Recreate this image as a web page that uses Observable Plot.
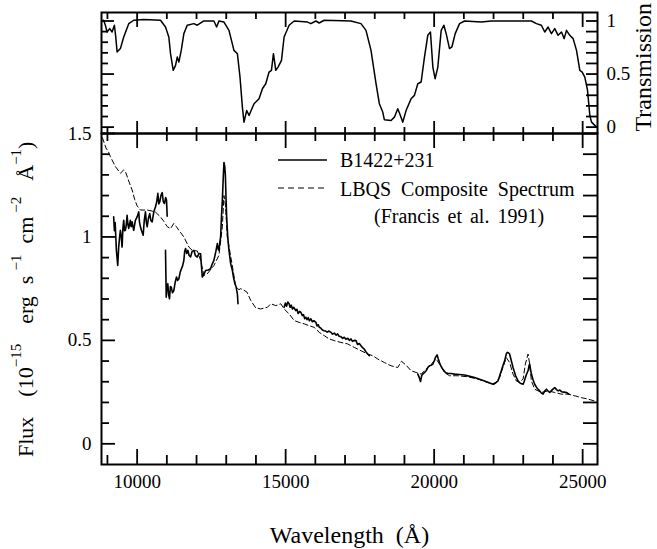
<!DOCTYPE html>
<html><head><meta charset="utf-8">
<script src="https://cdn.jsdelivr.net/npm/d3@7"></script>
<script src="https://cdn.jsdelivr.net/npm/@observablehq/plot@0.6"></script>
<style>
html,body{margin:0;padding:0;background:#fff;}
#chart{position:relative;width:657px;height:549px;overflow:hidden;background:#fff;font-family:'Liberation Serif',serif;}
#chart svg{position:absolute;left:0;top:0;font-family:'Liberation Serif',serif;}
#chart svg text{font-family:'Liberation Serif',serif !important;}
</style></head><body><div id="chart"></div>
<script>
// ---------- DATA (wavelength in Å, value) ----------
const transmission = [[8800,1.0],[8873,1.007],[8930,0.96],[8988,0.896],[9075,0.928],[9156,0.896],[9234,0.96],[9280,0.85],[9325,0.708],[9436,0.74],[9548,0.849],[9717,0.975],[9885,1.007],[10223,1.013],[10786,1.007],[10955,0.943],[11067,0.849],[11124,0.692],[11215,0.535],[11293,0.582],[11350,0.66],[11405,0.613],[11485,0.723],[11573,0.881],[11687,0.96],[11910,0.975],[12025,0.96],[12248,1.0],[12585,1.0],[12676,0.943],[12754,1.0],[12923,0.99],[13092,0.912],[13260,0.723],[13375,0.692],[13463,0.472],[13543,0.189],[13598,0.047],[13689,0.157],[13768,0.11],[13936,0.221],[14104,0.268],[14218,0.362],[14330,0.409],[14441,0.519],[14522,0.535],[14589,0.692],[14668,0.535],[14745,0.566],[14860,0.629],[14948,0.849],[15117,0.96],[15286,1.0],[15738,0.99],[15849,0.975],[16018,1.0],[16130,0.981],[16298,1.007],[17199,1.0],[17537,0.975],[17705,0.912],[17874,0.723],[18043,0.409],[18155,0.221],[18269,0.142],[18323,0.07],[18549,0.063],[18661,0.094],[18775,0.174],[18863,0.11],[18944,0.047],[19055,0.157],[19224,0.268],[19336,0.299],[19450,0.409],[19562,0.425],[19674,0.66],[19786,0.865],[19876,0.896],[19956,0.566],[20032,0.456],[20124,0.566],[20237,0.912],[20327,0.96],[20405,0.881],[20517,0.74],[20597,0.755],[20709,0.881],[20855,0.975],[21023,1.0],[21587,0.99],[21924,1.0],[23274,1.0],[23443,0.975],[23611,0.96],[23724,0.896],[23837,0.943],[23949,0.881],[24061,0.928],[24174,0.865],[24287,0.896],[24378,0.834],[24455,0.912],[24567,0.865],[24680,0.834],[24793,0.723],[24905,0.535],[24984,0.519],[25073,0.472],[25164,0.346],[25242,0.11],[25299,0.047],[25468,0.0]];

const lbqsComposite = [[8830,1.48],[8950,1.43],[9041,1.41],[9099,1.388],[9268,1.34],[9436,1.308],[9548,1.324],[9620,1.31],[9717,1.27],[9831,1.227],[9920,1.18],[10000,1.15],[10111,1.13],[10338,1.13],[10500,1.125],[10618,1.12],[10786,1.097],[10900,1.075],[11012,1.05],[11124,1.04],[11235,1.065],[11320,1.05],[11405,1.032],[11573,1.0],[11742,0.951],[11856,0.935],[12025,0.932],[12136,0.887],[12248,0.814],[12362,0.822],[12585,0.862],[12754,0.911],[12869,1.05],[12923,1.2],[12975,1.15],[13036,1.0],[13206,0.86],[13318,0.76],[13430,0.745],[13487,0.75],[13600,0.742],[13700,0.733],[13824,0.693],[13993,0.657],[14161,0.652],[14388,0.66],[14499,0.677],[14668,0.668],[14836,0.677],[14948,0.652],[15117,0.628],[15286,0.596],[15454,0.587],[15623,0.58],[15792,0.571],[15961,0.563],[16130,0.539],[16298,0.523],[16467,0.507],[16636,0.499],[16861,0.49],[17087,0.483],[17311,0.466],[17537,0.45],[17762,0.434],[17931,0.426],[18100,0.41],[18323,0.393],[18549,0.377],[18775,0.369],[18900,0.399],[19055,0.38],[19224,0.353],[19393,0.345],[19562,0.337],[19731,0.361],[19899,0.385],[20068,0.41],[20180,0.385],[20348,0.345],[20517,0.329],[20800,0.329],[21137,0.324],[21474,0.313],[21812,0.296],[22035,0.288],[22204,0.32],[22316,0.369],[22430,0.417],[22541,0.393],[22656,0.337],[22768,0.304],[22879,0.296],[22994,0.313],[23071,0.385],[23162,0.434],[23217,0.385],[23274,0.304],[23385,0.264],[23611,0.248],[23837,0.256],[24061,0.248],[24287,0.24],[24512,0.24],[24736,0.232],[24962,0.223],[25188,0.216],[25450,0.205]];

const b1422_J = [[9210,1.097],[9234,1.03],[9260,1.07],[9302,0.934],[9346,0.862],[9379,0.951],[9410,1.0],[9436,1.032],[9465,1.0],[9494,0.951],[9520,1.04],[9548,1.081],[9575,1.03],[9605,1.032],[9635,1.06],[9662,1.105],[9690,1.06],[9717,1.041],[9770,1.08],[9800,1.05],[9831,1.073],[9860,1.05],[9885,1.032],[9940,1.08],[10000,1.097],[10054,1.121],[10080,1.07],[10111,1.049],[10150,1.03],[10203,1.008],[10240,1.08],[10280,1.121],[10310,1.07],[10338,1.049],[10380,1.09],[10425,1.113],[10460,1.08],[10506,1.073],[10560,1.12],[10618,1.146],[10660,1.17],[10697,1.211],[10730,1.16],[10763,1.17],[10800,1.2],[10844,1.214],[10880,1.17],[10921,1.162],[10960,1.19],[10989,1.178],[11012,1.1]];

const b1422_H = [[10955,0.935],[10979,0.709],[11005,0.76],[11033,0.774],[11060,0.72],[11090,0.701],[11120,0.76],[11148,0.757],[11190,0.73],[11235,0.741],[11280,0.78],[11326,0.806],[11365,0.79],[11405,0.798],[11450,0.83],[11495,0.847],[11530,0.86],[11573,0.887],[11600,0.93],[11630,0.944],[11670,0.92],[11709,0.935],[11750,0.91],[11799,0.903],[11850,0.93],[11910,0.935],[11960,0.91],[12025,0.903],[12080,0.92],[12136,0.919],[12165,0.86],[12194,0.806],[12250,0.82],[12305,0.838],[12400,0.84],[12474,0.847],[12530,0.87],[12585,0.887],[12650,0.93],[12700,0.968],[12730,0.94],[12754,0.935],[12790,0.98],[12811,1.0],[12840,1.1],[12869,1.178],[12900,1.29],[12923,1.36],[12950,1.34],[12970,1.3],[12990,1.2],[13014,1.097],[13050,1.0],[13092,0.935],[13150,0.87],[13206,0.838],[13250,0.8],[13294,0.774],[13330,0.76],[13375,0.725],[13396,0.677]];

const b1422_H2 = [[14948,0.66],[14990,0.68],[15030,0.665],[15070,0.685],[15117,0.677],[15150,0.66],[15190,0.67],[15230,0.652],[15270,0.66],[15342,0.644],[15380,0.65],[15420,0.63],[15470,0.64],[15511,0.636],[15560,0.62],[15600,0.625],[15640,0.605],[15680,0.612],[15720,0.6],[15760,0.61],[15800,0.595],[15849,0.604],[15900,0.59],[15950,0.595],[16018,0.587],[16060,0.57],[16100,0.575],[16130,0.563],[16180,0.56],[16240,0.55],[16298,0.547],[16350,0.545],[16400,0.54],[16460,0.545],[16524,0.539],[16580,0.53],[16640,0.535],[16700,0.525],[16750,0.531],[16800,0.52],[16860,0.518],[16920,0.51],[16973,0.515],[17030,0.505],[17090,0.51],[17150,0.5],[17199,0.507],[17250,0.495],[17310,0.5],[17368,0.499],[17420,0.48],[17480,0.485],[17537,0.474],[17590,0.465],[17648,0.458],[17700,0.445],[17762,0.434],[17817,0.426]];

const b1422_K = [[19450,0.337],[19500,0.32],[19540,0.301],[19580,0.33],[19619,0.337],[19680,0.345],[19731,0.353],[19790,0.37],[19842,0.377],[19900,0.38],[19956,0.385],[20000,0.4],[20043,0.417],[20101,0.43],[20140,0.41],[20180,0.393],[20230,0.375],[20293,0.361],[20380,0.345],[20462,0.34],[20570,0.34],[20686,0.337],[20850,0.335],[21023,0.333],[21200,0.326],[21361,0.32],[21530,0.312],[21698,0.304],[21850,0.295],[21981,0.288],[22070,0.295],[22150,0.304],[22210,0.33],[22262,0.353],[22320,0.38],[22373,0.401],[22430,0.435],[22464,0.442],[22500,0.44],[22541,0.434],[22600,0.4],[22656,0.369],[22740,0.33],[22824,0.304],[22900,0.293],[22994,0.288],[23030,0.3],[23071,0.32],[23120,0.34],[23162,0.353],[23200,0.38],[23217,0.385],[23245,0.36],[23274,0.337],[23330,0.31],[23385,0.288],[23460,0.27],[23554,0.256],[23610,0.245],[23668,0.24],[23720,0.255],[23780,0.264],[23840,0.255],[23892,0.248],[23980,0.262],[24061,0.272],[24120,0.262],[24174,0.256],[24230,0.26],[24287,0.252],[24370,0.25],[24455,0.248],[24540,0.24]];

const xMajor = [10000, 15000, 20000, 25000];
const xMinor = [9000, 11000, 12000, 13000, 14000, 16000, 17000, 18000, 19000, 21000, 22000, 23000, 24000];
const fluxMajor = [0, 0.5, 1, 1.5];
const fluxMinor = [0.1, 0.2, 0.3, 0.4, 0.6, 0.7, 0.8, 0.9, 1.1, 1.2, 1.3, 1.4];
const transMajor = [0, 0.5, 1];
const transMinor = [0.1, 0.2, 0.3, 0.4, 0.6, 0.7, 0.8, 0.9];

const legendLabels = ["B1422+231", "LBQS Composite Spectrum", "(Francis et al. 1991)"];
const xTitle = "Wavelength\u00a0 (Å)";
const topTitle = "Transmission";

// ---------- LAYOUT ----------
const FONT = "'Liberation Serif', serif";
const W = 657, ML = 101, MR = 60, innerW = W - ML - MR;
const xDomain = [8800, 25500];
const TW = 1.8;

// bottom panel
const B_H = 549, B_MT = 133, B_MB = 85, B_in = B_H - B_MT - B_MB;
const px = d => d[0], py = d => d[1];
const solid = {x: px, y: py, stroke: "black", strokeWidth: 1.6, strokeLinejoin: "round"};
const txt = {fontFamily: FONT, fill: "black"};

const bottom = Plot.plot({
  width: W, height: B_H, marginLeft: ML, marginRight: MR, marginTop: B_MT, marginBottom: B_MB,
  style: {fontFamily: FONT, fontSize: "19px", background: "transparent", color: "black"},
  x: {domain: xDomain, axis: null},
  y: {domain: [-0.1, 1.5], axis: null},
  marks: [
    Plot.line(lbqsComposite, {x: px, y: py, stroke: "black", strokeWidth: 1, strokeDasharray: "5,3"}),
    Plot.line(b1422_J, solid),
    Plot.line(b1422_H, solid),
    Plot.line(b1422_H2, solid),
    Plot.line(b1422_K, solid),
    Plot.ruleX(xMajor, {x: d => d, insetTop: B_in - 15, strokeWidth: TW}),
    Plot.ruleX(xMinor, {x: d => d, insetTop: B_in - 9, strokeWidth: TW}),
    Plot.ruleX(xMajor, {x: d => d, insetBottom: B_in - 15, strokeWidth: TW}),
    Plot.ruleX(xMinor, {x: d => d, insetBottom: B_in - 8, strokeWidth: TW}),
    Plot.ruleY(fluxMajor, {y: d => d, insetRight: innerW - 14, strokeWidth: TW}),
    Plot.ruleY(fluxMinor, {y: d => d, insetRight: innerW - 8, strokeWidth: TW}),
    Plot.ruleY(fluxMajor.concat(fluxMinor), {y: d => d, insetLeft: innerW - 14, strokeWidth: TW}),
    Plot.frame({stroke: "black", strokeWidth: 2}),
    Plot.text(xMajor, {...txt, x: d => d, text: d => String(d), frameAnchor: "bottom", dy: 17, fontSize: 19, lineAnchor: "middle"}),
    Plot.text(fluxMajor, {...txt, y: d => d, text: d => String(d), frameAnchor: "left", dx: -10, textAnchor: "end", fontSize: 19}),
    Plot.text([xTitle], {...txt, text: d => d, frameAnchor: "bottom", dy: 71, fontSize: 24, lineAnchor: "middle"})
  ]
});

// Y-axis title with superscripts
const bsvg = d3.select(bottom);
const yt = bsvg.append("text")
  .attr("transform", "translate(33,457) rotate(-90)")
  .attr("text-anchor", "start")
  .attr("font-family", FONT).attr("font-size", 22).attr("fill", "black");
const SUP = -12;
yt.append("tspan").text("Flux");
yt.append("tspan").attr("dx", 20).text("(10");
yt.append("tspan").attr("dy", SUP).attr("font-size", 15).text("\u221215");
yt.append("tspan").attr("dy", -SUP).attr("dx", 20).text("erg");
yt.append("tspan").attr("dx", 12).text("s");
yt.append("tspan").attr("dy", SUP).attr("dx", 5).attr("font-size", 15).text("\u22121");
yt.append("tspan").attr("dy", -SUP).attr("dx", 11).text("cm");
yt.append("tspan").attr("dy", SUP).attr("dx", 4).attr("font-size", 15).text("\u22122");
yt.append("tspan").attr("dy", -SUP).attr("dx", 16).text("Å");
yt.append("tspan").attr("dy", SUP).attr("font-size", 15).text("\u22121");
yt.append("tspan").attr("dy", -SUP).text(")");

// Legend
const lg = bsvg.append("g").attr("font-family", FONT).attr("font-size", 20).attr("fill", "black").attr("text-anchor", "start");
lg.append("line").attr("x1", 278).attr("x2", 327).attr("y1", 160).attr("y2", 160).attr("stroke", "black").attr("stroke-width", 1.6);
lg.append("text").attr("x", 340).attr("y", 167).text(legendLabels[0]);
lg.append("line").attr("x1", 278).attr("x2", 327).attr("y1", 188).attr("y2", 188).attr("stroke", "black").attr("stroke-width", 1).attr("stroke-dasharray", "6,4");
lg.append("text").attr("x", 340).attr("y", 196).attr("word-spacing", 5).text(legendLabels[1]);
lg.append("text").attr("x", 374).attr("y", 223).attr("word-spacing", 3).text(legendLabels[2]);

// top panel
const T_H = 142, T_MT = 12, T_MB = 9, T_in = T_H - T_MT - T_MB;
const topPlot = Plot.plot({
  width: W, height: T_H, marginLeft: ML, marginRight: MR, marginTop: T_MT, marginBottom: T_MB,
  style: {fontFamily: FONT, fontSize: "19px", background: "transparent", color: "black"},
  x: {domain: xDomain, axis: null},
  y: {domain: [-0.06, 1.08], axis: null},
  marks: [
    Plot.line(transmission, {x: px, y: py, stroke: "black", strokeWidth: 1.5, strokeLinejoin: "round"}),
    Plot.ruleX(xMajor, {x: d => d, insetBottom: T_in - 15, strokeWidth: TW}),
    Plot.ruleX(xMinor, {x: d => d, insetBottom: T_in - 7, strokeWidth: TW}),
    Plot.ruleX(xMajor, {x: d => d, insetTop: T_in - 12, strokeWidth: TW}),
    Plot.ruleX(xMinor, {x: d => d, insetTop: T_in - 6, strokeWidth: TW}),
    Plot.ruleY(transMajor, {y: d => d, insetRight: innerW - 13, strokeWidth: TW}),
    Plot.ruleY(transMinor, {y: d => d, insetRight: innerW - 7, strokeWidth: TW}),
    Plot.ruleY(transMajor.concat(transMinor), {y: d => d, insetLeft: innerW - 11, strokeWidth: TW}),
    Plot.frame({stroke: "black", strokeWidth: 2}),
    Plot.text(transMajor, {...txt, y: d => d, text: d => String(d), frameAnchor: "right", dx: 9, textAnchor: "start", fontSize: 19}),
    Plot.text([topTitle], {...txt, text: d => d, frameAnchor: "bottom-right", rotate: -90, dx: 46, dy: -2, fontSize: 24, textAnchor: "start", lineAnchor: "middle"})
  ]
});

// force the serif face on every text element of both panels
for (const svg of [bottom, topPlot]) {
  d3.select(svg).selectAll("text, tspan").style("font-family", FONT);
}

const chart = document.getElementById("chart");
chart.appendChild(bottom);
chart.appendChild(topPlot);
</script></body></html>
